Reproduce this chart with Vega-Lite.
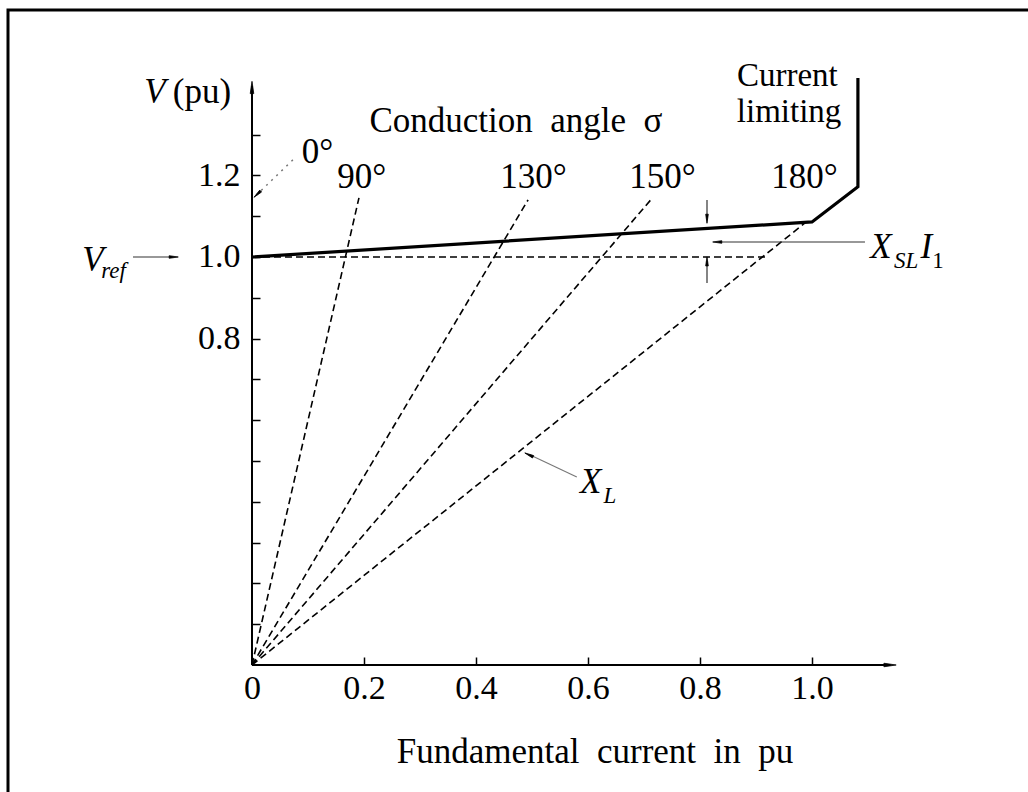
{
  "$schema": "https://vega.github.io/schema/vega-lite/v6.json",
  "width": 1023,
  "height": 785,
  "autosize": {"type": "none"},
  "padding": {"left": 8, "top": 10, "right": -3, "bottom": -3},
  "background": "white",
  "config": {
    "view": {"stroke": "black", "strokeWidth": 3},
    "text": {"font": "Liberation Serif", "color": "black"}
  },
  "datasets": {
    "lines": [
      {"s": "char", "o": 1, "I": 0, "V": 1.0},
      {"s": "char", "o": 2, "I": 1.0, "V": 1.086},
      {"s": "char", "o": 3, "I": 1.082, "V": 1.172},
      {"s": "char", "o": 4, "I": 1.082, "V": 1.439},
      {"s": "90°", "o": 1, "I": 0, "V": 0},
      {"s": "90°", "o": 2, "I": 0.191, "V": 1.145},
      {"s": "130°", "o": 1, "I": 0, "V": 0},
      {"s": "130°", "o": 2, "I": 0.493, "V": 1.14},
      {"s": "150°", "o": 1, "I": 0, "V": 0},
      {"s": "150°", "o": 2, "I": 0.712, "V": 1.14},
      {"s": "180°", "o": 1, "I": 0, "V": 0},
      {"s": "180°", "o": 2, "I": 0.987, "V": 1.083},
      {"s": "Vref", "o": 1, "I": 0, "V": 1.0},
      {"s": "Vref", "o": 2, "I": 0.92, "V": 1.0}
    ],
    "rules": [
      {"k": "axis", "I": 0, "V": 0, "I2": 0, "V2": 1.42},
      {"k": "axis", "I": 0, "V": 0, "I2": 1.14, "V2": 0},
      {"k": "thin", "I": -0.2125, "V": 1.0, "I2": -0.14, "V2": 1.0},
      {"k": "thin", "I": 1.0946, "V": 1.0368, "I2": 0.835, "V2": 1.0368},
      {"k": "thin", "I": 0.8125, "V": 1.1397, "I2": 0.8125, "V2": 1.09},
      {"k": "thin", "I": 0.8125, "V": 0.936, "I2": 0.8125, "V2": 0.99},
      {"k": "dot", "I": 0.073, "V": 1.238, "I2": 0.008, "V2": 1.152},
      {"k": "gray", "I": 0.58, "V": 0.461, "I2": 0.495, "V2": 0.516}
    ],
    "heads": [
      {"k": "big", "I": 0, "V": 1.4105, "a": 0},
      {"k": "big", "I": 1.1357, "V": 0, "a": 90},
      {"k": "small", "I": -0.1425, "V": 1.0, "a": 90},
      {"k": "small", "I": 0.8335, "V": 1.0368, "a": 270},
      {"k": "small", "I": 0.8125, "V": 1.0975, "a": 180},
      {"k": "small", "I": 0.8125, "V": 0.9855, "a": 0},
      {"k": "small", "I": 0.0115, "V": 1.1565, "a": 227},
      {"k": "small", "I": 0.497, "V": 0.5135, "a": 295}
    ],
    "labels": [
      {"st": "n", "t": "Conduction\u00a0 angle\u00a0 σ", "I": 0.4714, "V": 1.307},
      {"st": "n2", "t": "Current", "I": 0.956, "V": 1.42},
      {"st": "n2", "t": "limiting", "I": 0.959, "V": 1.3316},
      {"st": "n", "t": "0°", "I": 0.117, "V": 1.23},
      {"st": "n", "t": "90°", "I": 0.196, "V": 1.169},
      {"st": "n", "t": "130°", "I": 0.5027, "V": 1.168},
      {"st": "n", "t": "150°", "I": 0.733, "V": 1.168},
      {"st": "n", "t": "180°", "I": 0.9866, "V": 1.168},
      {"st": "n", "t": "(pu)", "I": -0.0893, "V": 1.377},
      {"st": "n", "t": "Fundamental\u00a0 current\u00a0 in\u00a0 pu", "I": 0.6125, "V": -0.24},
      {"st": "i", "t": "V", "I": -0.1732, "V": 1.377},
      {"st": "i", "t": "V", "I": -0.284, "V": 0.9665},
      {"st": "i", "t": "X", "I": 1.123, "V": 0.9975},
      {"st": "i", "t": "I", "I": 1.204, "V": 0.9975},
      {"st": "i", "t": "X", "I": 0.605, "V": 0.4216},
      {"st": "si", "t": "ref", "I": -0.2473, "V": 0.9485},
      {"st": "si", "t": "SL", "I": 1.168, "V": 0.973},
      {"st": "si", "t": "L", "I": 0.639, "V": 0.397},
      {"st": "sn", "t": "1", "I": 1.225, "V": 0.973}
    ]
  },
  "encoding": {
    "x": {
      "field": "I", "type": "quantitative",
      "scale": {"domain": [-0.43571, 1.39107], "nice": false, "zero": false},
      "axis": {
        "orient": "bottom", "offset": -130, "title": null, "domain": false, "grid": false,
        "values": [0, 0.2, 0.4, 0.6, 0.8, 1.0],
        "tickSize": -8, "tickColor": "black", "tickWidth": 1.5,
        "labelFont": "Liberation Serif", "labelFontSize": 34, "labelColor": "black",
        "labelPadding": 14, "labelFlush": false, "labelOverlap": false,
        "labelExpr": "datum.value == 0 ? '0' : format(datum.value, '.1f')"
      }
    },
    "y": {
      "field": "V", "type": "quantitative",
      "scale": {"domain": [-0.31863, 1.60539], "nice": false, "zero": false},
      "axis": {
        "orient": "left", "offset": -244, "title": null, "domain": false, "grid": false,
        "values": [0.1, 0.2, 0.3, 0.4, 0.5, 0.6, 0.7, 0.8, 0.9, 1.0, 1.1, 1.2, 1.3],
        "tickSize": -8, "tickColor": "black", "tickWidth": 1.5,
        "labelFont": "Liberation Serif", "labelFontSize": 34, "labelColor": "black",
        "labelPadding": 20, "labelFlush": false, "labelOverlap": false,
        "labelExpr": "(abs(datum.value - 0.8) < 0.001 || abs(datum.value - 1) < 0.001 || abs(datum.value - 1.2) < 0.001) ? format(datum.value, '.1f') : ''"
      }
    }
  },
  "layer": [
    {
      "data": {"name": "rules"},
      "transform": [{"filter": "datum.k == 'axis'"}],
      "mark": {"type": "rule", "color": "black", "strokeWidth": 2},
      "encoding": {"x2": {"field": "I2"}, "y2": {"field": "V2"}}
    },
    {
      "data": {"name": "lines"},
      "transform": [{"filter": "datum.s == 'char'"}],
      "mark": {"type": "line", "color": "black", "strokeWidth": 3.2, "strokeJoin": "miter"},
      "encoding": {"order": {"field": "o", "type": "quantitative"}}
    },
    {
      "data": {"name": "lines"},
      "transform": [{"filter": "datum.s != 'char'"}],
      "mark": {"type": "line", "color": "black", "strokeWidth": 1.6, "strokeDash": [7, 4]},
      "encoding": {"detail": {"field": "s"}, "order": {"field": "o", "type": "quantitative"}}
    },
    {
      "data": {"name": "rules"},
      "transform": [{"filter": "datum.k == 'thin'"}],
      "mark": {"type": "rule", "color": "#333333", "strokeWidth": 1.2},
      "encoding": {"x2": {"field": "I2"}, "y2": {"field": "V2"}}
    },
    {
      "data": {"name": "rules"},
      "transform": [{"filter": "datum.k == 'dot'"}],
      "mark": {"type": "rule", "color": "#777777", "strokeWidth": 1.5, "strokeDash": [2, 5]},
      "encoding": {"x2": {"field": "I2"}, "y2": {"field": "V2"}}
    },
    {
      "data": {"name": "rules"},
      "transform": [{"filter": "datum.k == 'gray'"}],
      "mark": {"type": "rule", "color": "#777777", "strokeWidth": 1.1},
      "encoding": {"x2": {"field": "I2"}, "y2": {"field": "V2"}}
    },
    {
      "data": {"name": "heads"},
      "transform": [{"filter": "datum.k == 'big'"}],
      "mark": {"type": "point", "shape": "wedge", "filled": true, "fill": "black", "stroke": "black", "strokeWidth": 0.8, "size": 200, "opacity": 1},
      "encoding": {"angle": {"field": "a", "type": "quantitative", "scale": null}}
    },
    {
      "data": {"name": "heads"},
      "transform": [{"filter": "datum.k == 'small'"}],
      "mark": {"type": "point", "shape": "wedge", "filled": true, "fill": "black", "stroke": "black", "strokeWidth": 0.8, "size": 110, "opacity": 1},
      "encoding": {"angle": {"field": "a", "type": "quantitative", "scale": null}}
    },
    {
      "data": {"name": "labels"},
      "transform": [{"filter": "datum.st == 'n'"}],
      "mark": {"type": "text", "fontSize": 35, "align": "center", "baseline": "alphabetic"},
      "encoding": {"text": {"field": "t"}}
    },
    {
      "data": {"name": "labels"},
      "transform": [{"filter": "datum.st == 'n2'"}],
      "mark": {"type": "text", "fontSize": 33, "align": "center", "baseline": "alphabetic"},
      "encoding": {"text": {"field": "t"}}
    },
    {
      "data": {"name": "labels"},
      "transform": [{"filter": "datum.st == 'i'"}],
      "mark": {"type": "text", "fontSize": 35, "fontStyle": "italic", "align": "center", "baseline": "alphabetic"},
      "encoding": {"text": {"field": "t"}}
    },
    {
      "data": {"name": "labels"},
      "transform": [{"filter": "datum.st == 'si'"}],
      "mark": {"type": "text", "fontSize": 23, "fontStyle": "italic", "align": "center", "baseline": "alphabetic"},
      "encoding": {"text": {"field": "t"}}
    },
    {
      "data": {"name": "labels"},
      "transform": [{"filter": "datum.st == 'sn'"}],
      "mark": {"type": "text", "fontSize": 23, "align": "center", "baseline": "alphabetic"},
      "encoding": {"text": {"field": "t"}}
    }
  ]
}
